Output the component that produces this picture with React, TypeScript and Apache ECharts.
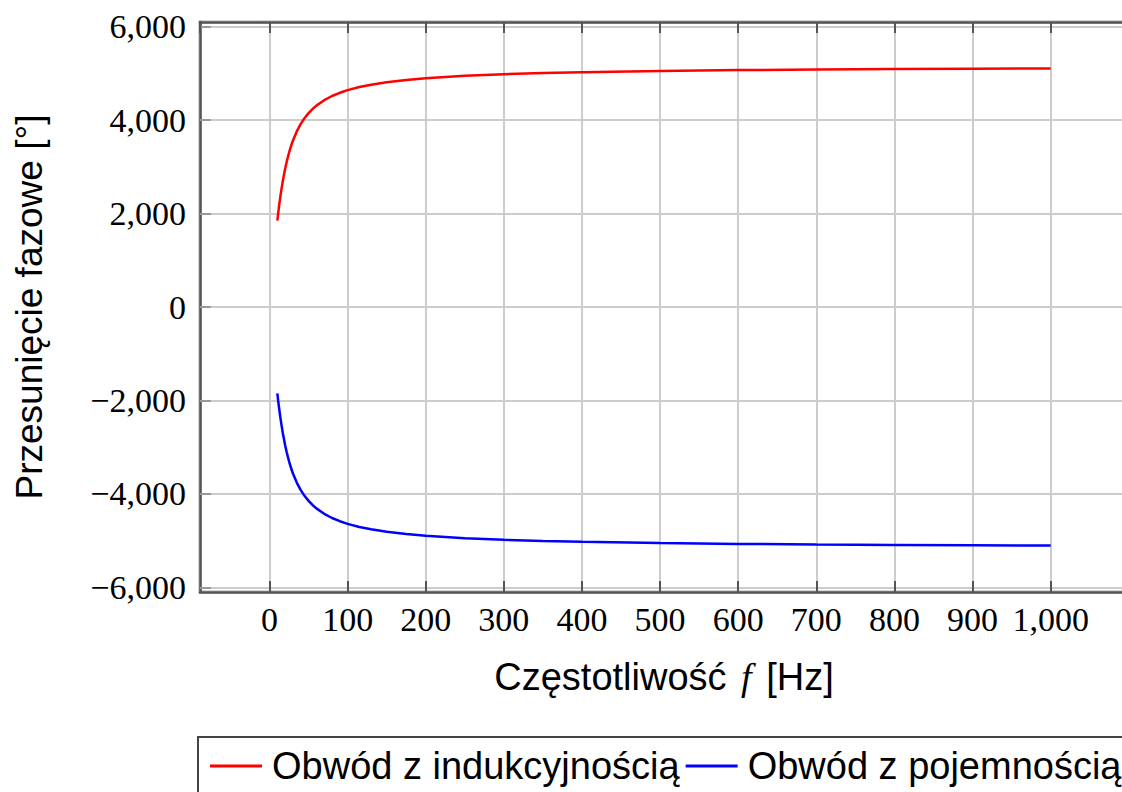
import React, { useEffect, useRef } from "react";
import * as echarts from "echarts";

const freqHz = [10, 11, 12, 13, 14, 15, 17, 20, 22, 25, 28, 30, 35, 40, 45, 50, 55, 60, 70, 80, 90, 100, 115, 130, 150, 175, 200, 250, 300, 350, 400, 500, 600, 700, 800, 900, 1000];
const inductivePhase = [1850, 1995, 2130, 2258, 2378, 2491, 2696, 2959, 3110, 3304, 3468, 3563, 3763, 3920, 4047, 4150, 4237, 4310, 4427, 4516, 4585, 4642, 4708, 4759, 4812, 4861, 4898, 4949, 4983, 5008, 5027, 5053, 5070, 5082, 5092, 5099, 5105];
const capacitivePhase = [-1850, -1995, -2130, -2258, -2378, -2491, -2696, -2959, -3110, -3304, -3468, -3563, -3763, -3920, -4047, -4150, -4237, -4310, -4427, -4516, -4585, -4642, -4708, -4759, -4812, -4861, -4898, -4949, -4983, -5008, -5027, -5053, -5070, -5082, -5092, -5099, -5105];
const seriesNames = ["Obwód z indukcyjnością", "Obwód z pojemnością"];
const xTitle = "Częstotliwość {f|f} [Hz]";
const yTitle = "Przesunięcie fazowe [°]";

const X_MIN = -89;
const X_MAX = 1099;
const Y_MIN = -6100;
const Y_MAX = 6100;

const fmt = (v: number) => {
  const s = Math.abs(v).toLocaleString("en-US");
  return v < 0 ? "\u2212" + s : s;
};

const FRAME = "#555555";
const GRID = "#cccccc";
const SERIF = "'Liberation Serif', 'Times New Roman', serif";
const SANS = "'Liberation Sans', Arial, sans-serif";

export default function App() {
  const ref = useRef<HTMLDivElement>(null);
  useEffect(() => {
    if (!ref.current) return;
    const chart = echarts.init(ref.current, undefined, { renderer: "svg" });
    const tickLabel = {
      fontFamily: SERIF,
      fontSize: 34,
      color: "#000",
      showMinLabel: false,
      showMaxLabel: false,
      formatter: fmt,
    };
    const frameLine = { show: true, onZero: false, lineStyle: { color: FRAME, width: 2.5 } };
    chart.setOption({
      animation: false,
      backgroundColor: "#fff",
      grid: {
        left: 200,
        top: 22,
        width: 928,
        height: 570,
        show: true,
        borderColor: FRAME,
        borderWidth: 2.5,
        backgroundColor: "transparent",
        outerBoundsMode: "none",
        containLabel: false,
      },
      legend: {
        left: 198,
        top: 737,
        width: 1000,
        orient: "horizontal",
        padding: [10, 12, 14, 12],
        itemGap: 6,
        itemWidth: 52,
        itemHeight: 3,
        icon: "rect",
        borderColor: "#444",
        borderWidth: 2,
        formatter: (name: string) => "{a|" + name + "}",
        textStyle: {
          fontFamily: SANS,
          fontSize: 38,
          color: "#000",
          rich: { a: { fontFamily: SANS, fontSize: 38, color: "#000", padding: [0, 0, 0, 5] } },
        },
        data: seriesNames,
      },
      xAxis: [
        {
          type: "value",
          min: X_MIN,
          max: X_MAX,
          splitNumber: 12,
          position: "bottom",
          axisLine: frameLine,
          axisTick: { show: true, inside: true, length: 11, lineStyle: { color: FRAME, width: 2 } },
          axisLabel: { ...tickLabel, margin: 10 },
          splitLine: { show: true, lineStyle: { color: GRID, width: 2 } },
          name: xTitle,
          nameLocation: "middle",
          nameGap: 66,
          nameTextStyle: {
            fontFamily: SANS,
            fontSize: 38,
            color: "#000",
            rich: { f: { fontFamily: SERIF, fontStyle: "italic", fontSize: 38, color: "#000", padding: [0, 4, 0, 4] } },
          },
        },
        {
          type: "value",
          min: X_MIN,
          max: X_MAX,
          splitNumber: 12,
          position: "top",
          axisLine: frameLine,
          axisTick: { show: true, inside: true, length: 11, lineStyle: { color: FRAME, width: 2 } },
          axisLabel: { show: false },
          splitLine: { show: false },
        },
      ],
      yAxis: [
        {
          type: "value",
          min: Y_MIN,
          max: Y_MAX,
          splitNumber: 6,
          position: "left",
          axisLine: frameLine,
          axisTick: { show: true, inside: true, length: 11, lineStyle: { color: "#999", width: 2 } },
          axisLabel: { ...tickLabel, margin: 14 },
          splitLine: { show: true, lineStyle: { color: GRID, width: 2 } },
          name: yTitle,
          nameLocation: "middle",
          nameGap: 152,
          nameTextStyle: { fontFamily: SANS, fontSize: 37, color: "#000" },
        },
      ],
      series: [
        {
          name: seriesNames[0],
          type: "line",
          xAxisIndex: 0,
          yAxisIndex: 0,
          symbol: "none",
          smooth: false,
          color: "#ff0000",
          itemStyle: { color: "#ff0000" },
          lineStyle: { color: "#ff0000", width: 2.5 },
          data: freqHz.map((f, i) => [f, inductivePhase[i]]),
        },
        {
          name: seriesNames[1],
          type: "line",
          xAxisIndex: 0,
          yAxisIndex: 0,
          symbol: "none",
          smooth: false,
          color: "#0000ff",
          itemStyle: { color: "#0000ff" },
          lineStyle: { color: "#0000ff", width: 2.5 },
          data: freqHz.map((f, i) => [f, capacitivePhase[i]]),
        },
      ],
    });
    return () => chart.dispose();
  }, []);
  return (
    <div
      ref={ref}
      style={{ position: "absolute", left: 0, top: 0, width: 1122, height: 792 }}
    />
  );
}
